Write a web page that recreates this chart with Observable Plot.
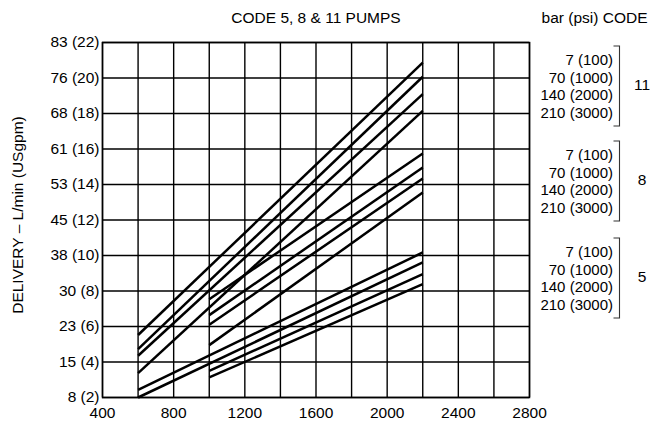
<!DOCTYPE html>
<html>
<head>
<meta charset="utf-8">
<script src="https://cdn.jsdelivr.net/npm/d3@7"></script>
<script src="https://cdn.jsdelivr.net/npm/@observablehq/plot@0.6"></script>
<style>
  html, body { margin: 0; padding: 0; background: #fff; }
  #chart { width: 652px; height: 425px; }
</style>
</head>
<body>
<div id="chart"></div>
<script>
// ---- Text ----
const title = "CODE 5, 8 & 11 PUMPS";
const yAxisLabel = "DELIVERY \u2013 L/min (USgpm)";
const legendHeader = "bar (psi) CODE";

// ---- Axis ticks ----
const xTicks = [400, 800, 1200, 1600, 2000, 2400, 2800];
const xGrid = [400, 600, 800, 1000, 1200, 1400, 1600, 1800, 2000, 2200, 2400, 2600, 2800];
const yTicksGpm = [2, 4, 6, 8, 10, 12, 14, 16, 18, 20, 22];
const yTickLabels = ["8 (2)", "15 (4)", "23 (6)", "30 (8)", "38 (10)", "45 (12)",
                     "53 (14)", "61 (16)", "68 (18)", "76 (20)", "83 (22)"];

// ---- Series: codes and pressures ----
const codes = ["11", "8", "5"];
const pressures = ["7 (100)", "70 (1000)", "140 (2000)", "210 (3000)"];

// speed (rpm) at start / end of each line, per pressure
const code11SpeedStart = [600, 600, 600, 600];
const code11SpeedEnd   = [2200, 2200, 2200, 2200];
const code11FlowStart  = [5.52, 4.73, 4.35, 3.37];   // USgpm
const code11FlowEnd    = [20.87, 20.07, 19.09, 18.15];

const code8SpeedStart = [1000, 1000, 1000, 1000];
const code8SpeedEnd   = [2200, 2200, 2200, 2200];
const code8FlowStart  = [7.54, 6.64, 6.10, 4.95];
const code8FlowEnd    = [15.75, 14.96, 14.34, 13.55];

const code5SpeedStart = [600, 600, 1000, 1000];
const code5SpeedEnd   = [2200, 2200, 2200, 2200];
const code5FlowStart  = [2.43, 2.00, 3.50, 3.13];
const code5FlowEnd    = [10.17, 9.61, 8.95, 8.39];

// ---- Build table ----
const seriesByCode = {
  "11": [code11SpeedStart, code11SpeedEnd, code11FlowStart, code11FlowEnd],
  "8":  [code8SpeedStart, code8SpeedEnd, code8FlowStart, code8FlowEnd],
  "5":  [code5SpeedStart, code5SpeedEnd, code5FlowStart, code5FlowEnd]
};
const rows = [];
for (const code of codes) {
  const [s0, s1, f0, f1] = seriesByCode[code];
  pressures.forEach((p, i) => {
    const key = code + "|" + p;
    rows.push({key, speed: s0[i], flow: f0[i]});
    rows.push({key, speed: s1[i], flow: f1[i]});
  });
}

const FONT = "'Liberation Sans', Arial, Helvetica, sans-serif";
const FS = 15.5;
const LFS = 15;

// Legend drawn at the right of the frame (annotation)
function legendMark(index, scales, values, dim) {
  const right = dim.width - dim.marginRight;
  const tops = [46, 141, 238];
  const offs = [14, 31.5, 49, 66.5];
  const h = 80;
  const g = d3.create("svg:g")
    .attr("font-family", FONT)
    .attr("font-size", LFS)
    .attr("fill", "#000");
  codes.forEach((code, gi) => {
    const top = tops[gi];
    pressures.forEach((p, pi) => {
      g.append("text")
        .attr("x", right + 84)
        .attr("y", top + offs[pi])
        .attr("dy", "0.35em")
        .attr("text-anchor", "end")
        .text(p);
    });
    const bx = right + 90.5;
    g.append("path")
      .attr("d", `M${bx - 6},${top}H${bx}V${top + h}H${bx - 6}`)
      .attr("fill", "none")
      .attr("stroke", "#333")
      .attr("stroke-width", 1.1);
    g.append("text")
      .attr("x", right + 113)
      .attr("y", top + 39)
      .attr("dy", "0.35em")
      .attr("font-size", FS)
      .attr("text-anchor", "middle")
      .text(code);
  });
  return g.node();
}

const chart = Plot.plot({
  width: 652,
  height: 425,
  marginLeft: 102,
  marginRight: 123,
  marginTop: 42,
  marginBottom: 28,
  style: {fontFamily: FONT, fontSize: FS + "px", color: "#000", background: "#fff", overflow: "visible"},
  x: {domain: [400, 2800]},
  y: {domain: [2, 22]},
  marks: [
    Plot.gridX(xGrid, {stroke: "#000", strokeOpacity: 1, strokeWidth: 1.4}),
    Plot.gridY(yTicksGpm, {stroke: "#000", strokeOpacity: 1, strokeWidth: 1.4}),
    Plot.frame({stroke: "#000", strokeWidth: 1.5}),
    Plot.axisX(xTicks, {tickSize: 0, tickPadding: 9, label: null, fontSize: FS, tickFormat: d => String(d)}),
    Plot.axisY(yTicksGpm, {
      tickSize: 0, tickPadding: 3, label: null, fontSize: FS,
      tickFormat: d => yTickLabels[yTicksGpm.indexOf(d)]
    }),
    Plot.line(rows, {x: "speed", y: "flow", z: "key", stroke: "#000", strokeWidth: 2.5, strokeLinecap: "butt"}),
    Plot.text([title], {frameAnchor: "top", lineAnchor: "bottom", dy: -19.3, fontSize: FS}),
    Plot.text([legendHeader], {frameAnchor: "top-right", textAnchor: "end", lineAnchor: "bottom", dx: 118, dy: -19.3, fontSize: FS}),
    Plot.text([yAxisLabel], {frameAnchor: "left", textAnchor: "middle", rotate: -90, dx: -84, dy: -5, fontSize: FS}),
    legendMark
  ]
});
document.getElementById("chart").appendChild(chart);
</script>
</body>
</html>
